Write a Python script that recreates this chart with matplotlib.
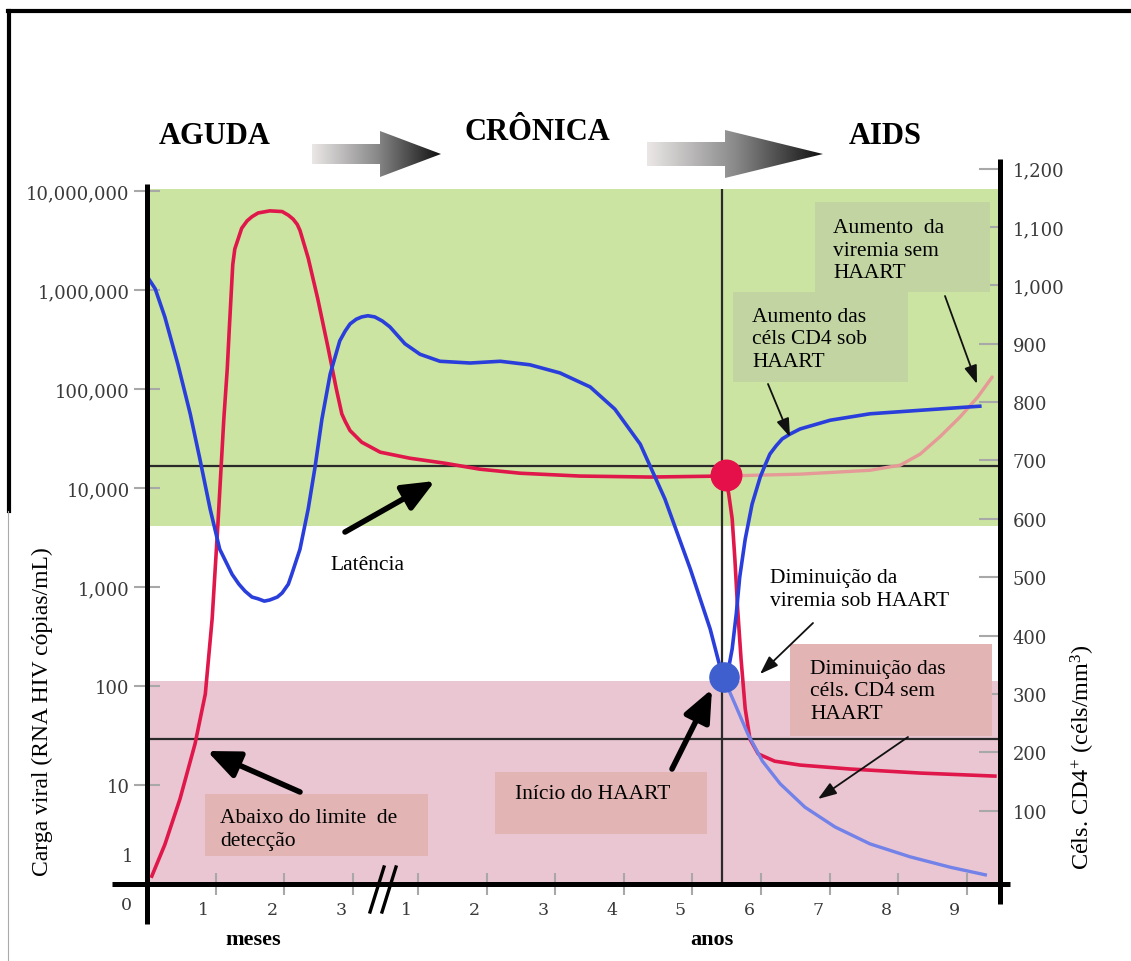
import numpy as np
import matplotlib.pyplot as plt
from matplotlib.patches import Rectangle, Polygon
from matplotlib.colors import LinearSegmentedColormap
import matplotlib.transforms as mtransforms

plt.rcParams['mathtext.fontset'] = 'custom'
plt.rcParams['mathtext.rm'] = 'Liberation Serif'
plt.rcParams['mathtext.it'] = 'Liberation Serif:italic'

# posição no eixo x: 0-3 = meses, depois anos (ano k em 2.95 + k)
meses_pos = [1, 2, 3]
anos_pos = [3.95, 4.95, 5.95, 6.95, 7.95, 8.95, 9.95, 10.95, 11.95]
x_labels = ['1', '2', '3', '1', '2', '3', '4', '5', '6', '7', '8', '9']

# carga viral (cópias/mL) - eixo esquerdo
t_viral = [0.07, 0.26, 0.48, 0.70, 0.85, 0.95, 1.03, 1.12, 1.17, 1.20, 1.25, 1.28, 1.33,
           1.38, 1.46, 1.53, 1.62, 1.79, 1.97, 2.06, 2.13, 2.19, 2.23, 2.35, 2.49, 2.64,
           2.76, 2.84, 2.89, 2.96, 3.03, 3.13, 3.40, 3.83, 4.34, 4.85, 5.44, 6.31, 7.33, 8.38]
viral = [1.2, 2.5, 7.2, 26, 83, 480, 3900, 50000, 160000, 410000, 1.8e6, 2.6e6, 3.3e6,
         4.2e6, 5.0e6, 5.5e6, 6.0e6, 6.3e6, 6.2e6, 5.7e6, 5.2e6, 4.6e6, 4.0e6, 2.1e6, 8.1e5,
         2.6e5, 1.0e5, 56000, 47000, 38000, 34000, 29000, 23000, 20000, 17800, 15500, 14100,
         13200, 12900, 13200]

# com HAART
t_viral_haart = [8.38, 8.44, 8.48, 8.53, 8.57, 8.61, 8.66, 8.72, 8.79, 8.91, 9.15, 9.52,
                 10.25, 11.27, 12.36]
viral_haart = [13200, 12300, 8700, 4900, 1900, 600, 186, 59, 29, 20.6, 17.4, 15.9,
               14.5, 13.2, 12.3]

# sem HAART
t_viral_sem = [8.38, 9.52, 10.54, 10.98, 11.27, 11.56, 11.85, 12.11, 12.32]
viral_sem = [13200, 13800, 15100, 17000, 22000, 33000, 52000, 83000, 132000]

# células CD4 (céls/mm3) - eixo direito
t_cd4 = [0.01, 0.12, 0.26, 0.45, 0.63, 0.77, 0.92, 1.06, 1.24, 1.34, 1.43, 1.53, 1.62,
         1.71, 1.79, 1.90, 1.97, 2.06, 2.11, 2.23, 2.35, 2.45, 2.55, 2.67, 2.81, 2.89,
         2.96, 3.05, 3.13, 3.22, 3.32, 3.43, 3.54, 3.76, 3.98, 4.27, 4.71, 5.15, 5.58,
         6.02, 6.46, 6.82, 7.19, 7.55, 7.92, 8.21, 8.38]
cd4 = [1014, 994, 946, 865, 780, 703, 617, 548, 505, 488, 476, 466, 463,
       459, 461, 466, 473, 488, 505, 548, 617, 689, 771, 848, 905, 922,
       934, 942, 946, 948, 946, 939, 929, 900, 882, 870, 867, 870, 864,
       850, 826, 788, 728, 634, 514, 411, 334]

t_cd4_haart = [8.41, 8.47, 8.53, 8.59, 8.64, 8.72, 8.82, 8.94, 9.01, 9.08, 9.17, 9.26,
               9.37, 9.52, 9.96, 10.54, 11.27, 12.14]
cd4_haart = [329, 339, 377, 437, 500, 565, 625, 672, 692, 711, 725, 737,
             745, 754, 769, 780, 786, 793]

t_cd4_sem = [8.41, 8.57, 8.76, 8.97, 9.23, 9.59, 10.03, 10.54, 11.12, 11.71, 12.22]
cd4_sem = [326, 283, 231, 185, 146, 106, 72, 43, 21, 3, -10]

# início do HAART
t_inicio = 8.38
viral_inicio = 13500
cd4_inicio = 329

# faixas e limiares
faixa_verde = [4100, 1.05e7]
faixa_rosa = [1, 112]
limiares = [16700, 29]

viral_ticks = [10, 100, 1000, 10000, 100000, 1000000, 10000000]
viral_ticklabels = ['10', '100', '1,000', '10,000', '100,000', '1,000,000', '10,000,000']
cd4_ticks = [100, 200, 300, 400, 500, 600, 700, 800, 900, 1000, 1100, 1200]
cd4_ticklabels = ['100', '200', '300', '400', '500', '600', '700', '800', '900',
                  '1,000', '1,100', '1,200']

RED = '#e0174a'
BLUE = '#2a3edb'
GREEN = '#cbe4a1'
PINK = '#eac6d2'
BOX_G = '#c1d4a2'
BOX_P = '#e2b4b4'
SERIF = 'Liberation Serif'

W, H = 1131, 962
fig = plt.figure(figsize=(W / 100, H / 100), dpi=100)
fig.patch.set_facecolor('white')

# main axes: pixels x 147..1000, y 160..885
ax = fig.add_axes([147 / W, 1 - 885 / H, 853 / W, 725 / H])
ax.set_yscale('log')
ax.set_xlim(0, 853 / 68.6)
ax.set_ylim(1, 10 ** (725 / 99))
for s in ax.spines.values():
    s.set_visible(False)

ax.axhspan(faixa_verde[0], faixa_verde[1], xmin=0.004, color=GREEN, lw=0, zorder=0)
ax.axhspan(faixa_rosa[0], faixa_rosa[1], xmin=0.004, color=PINK, lw=0, zorder=0)
for v in limiares:
    ax.axhline(v, color='#2a2a2a', lw=1.6, zorder=1)
ax.vlines(t_inicio, 1, faixa_verde[1], color='#2a2a2a', lw=1.6, zorder=1)

ax.plot(t_viral_sem, viral_sem, color='#e59a98', lw=2.4, zorder=2, solid_capstyle='round')
ax.plot(t_viral, viral, color=RED, lw=2.6, zorder=3, solid_joinstyle='round')
ax.plot(t_viral_haart, viral_haart, color=RED, lw=2.6, zorder=3, solid_joinstyle='round')
ax.plot([t_inicio + 0.06], [viral_inicio], 'o', ms=22, color='#e5104a', zorder=6)

ax.set_yticks(viral_ticks)
ax.set_yticklabels(viral_ticklabels)
ax.yaxis.set_minor_locator(plt.NullLocator())
ax.tick_params(axis='y', which='both', direction='inout', length=19, width=1.5,
               color='#a8a8a8', pad=3, labelsize=13, labelcolor='#3a3a3a', right=False)
for lab in ax.get_yticklabels():
    lab.set_family('DejaVu Serif')

ax.set_xticks(meses_pos + anos_pos)
ax.set_xticklabels(x_labels)
ax.tick_params(axis='x', direction='inout', length=16, width=1.5, color='#a8a8a8',
               pad=4, labelsize=12.5, labelcolor='#3a3a3a')
off = mtransforms.ScaledTranslation(-0.12, 0, fig.dpi_scale_trans)
for lab in ax.get_xticklabels():
    lab.set_family('DejaVu Serif')
    lab.set_transform(lab.get_transform() + off)

ax2 = ax.twinx()
ax2.set_ylim(-15 / 0.5836, 710 / 0.5836)
for s in ax2.spines.values():
    s.set_visible(False)
ax2.plot(t_cd4_sem, cd4_sem, color='#7282e8', lw=2.4, zorder=2)
ax2.plot(t_cd4, cd4, color=BLUE, lw=2.6, zorder=3, solid_joinstyle='round')
ax2.plot(t_cd4_haart, cd4_haart, color=BLUE, lw=2.6, zorder=3, solid_joinstyle='round')
ax2.plot([t_inicio + 0.03], [cd4_inicio], 'o', ms=21, color='#3f5fcf', zorder=6)
ax2.set_yticks(cd4_ticks)
ax2.set_yticklabels(cd4_ticklabels)
ax2.tick_params(axis='y', direction='in', length=15, width=1.5, color='#a8a8a8',
                pad=9, labelsize=13, labelcolor='#3a3a3a')
for lab in ax2.get_yticklabels():
    lab.set_family('DejaVu Serif')

# overlay in image pixels for frame, spines, boxes, notes
deco = fig.add_axes([0, 0, 1, 1], zorder=5)
deco.set_xlim(0, W)
deco.set_ylim(H, 0)
deco.axis('off')
deco.patch.set_alpha(0)

deco.plot([8, W], [12, 12], color='black', lw=3)
deco.plot([9, 9], [12, 512], color='black', lw=3)
deco.plot([8, 8], [512, H], color='#aaaaaa', lw=0.8)
deco.plot([147, 147], [185, 925], color='black', lw=3.6, solid_capstyle='butt')
deco.plot([1000, 1000], [160, 905], color='black', lw=3.6, solid_capstyle='butt')
deco.plot([112, 1010], [885, 885], color='black', lw=3.6, solid_capstyle='butt')
deco.plot([370, 384], [913, 868], color='black', lw=2.4)
deco.plot([382, 396], [913, 868], color='black', lw=2.4)

# gradient phase arrows
cmap = LinearSegmentedColormap.from_list('g', ['#ebe7e7', '#8a8a8a', '#101010'])
for x0, xh, x1, yc, sh, hh in [(312, 380, 441, 155, 10, 23), (647, 725, 823, 155, 12, 24)]:
    verts = [(x0, yc - sh), (xh, yc - sh), (xh, yc - hh), (x1, yc),
             (xh, yc + hh), (xh, yc + sh), (x0, yc + sh)]
    poly = Polygon(verts, closed=True, facecolor='none', edgecolor='none')
    deco.add_patch(poly)
    im = deco.imshow(np.linspace(0, 1, 256).reshape(1, -1), cmap=cmap, aspect='auto',
                     extent=(x0, x1, yc + hh, yc - hh), interpolation='bilinear')
    im.set_clip_path(poly)
deco.set_xlim(0, W)
deco.set_ylim(H, 0)

for txt, x, y in [('AGUDA', 215, 137), ('CRÔNICA', 537, 133), ('AIDS', 885, 137)]:
    deco.text(x, y, txt, ha='center', va='center', family=SERIF, weight='bold', fontsize=22)
deco.text(253, 940, 'meses', ha='center', va='center', family=SERIF, weight='bold', fontsize=16)
deco.text(712, 940, 'anos', ha='center', va='center', family=SERIF, weight='bold', fontsize=16)
deco.text(126, 906, '0', ha='center', va='center', family='DejaVu Serif', fontsize=12.5,
          color='#3a3a3a')
deco.text(127, 857, '1', ha='center', va='center', family='DejaVu Serif', fontsize=13,
          color='#3a3a3a')

deco.text(42, 712, 'Carga viral (RNA HIV cópias/mL)', rotation=90, ha='center', va='center',
          family=SERIF, fontsize=17)
deco.text(1083, 757, r'Céls. CD4$^{+}$ (céls/mm$^{3}$)', rotation=90, ha='center',
          va='center', family=SERIF, fontsize=17.5)

boxes = [(815, 203, 990, 293, BOX_G), (733, 293, 908, 383, BOX_G),
         (790, 645, 992, 737, BOX_P), (495, 773, 707, 835, BOX_P),
         (205, 795, 428, 857, BOX_P)]
for x0, y0, x1, y1, c in boxes:
    deco.add_patch(Rectangle((x0, y0), x1 - x0, y1 - y0, facecolor=c, edgecolor='none'))

notes = [('Aumento  da\nviremia sem\nHAART', 833, 251),
         ('Aumento das\ncéls CD4 sob\nHAART', 752, 340),
         ('Latência', 330, 566),
         ('Diminuição da\nviremia sob HAART', 770, 590),
         ('Diminuição das\ncéls. CD4 sem\nHAART', 810, 692),
         ('Início do HAART', 515, 795),
         ('Abaixo do limite  de\ndetecção', 220, 830)]
for txt, x, y in notes:
    deco.text(x, y, txt, ha='left', va='center', family=SERIF, fontsize=15.5,
              linespacing=1.28)

thin = dict(arrowstyle='-|>,head_length=0.8,head_width=0.28', color='#111111', lw=1.3,
            mutation_scale=14, shrinkA=0, shrinkB=0)
for tail, tip in [((945, 297), (977, 385)), ((768, 385), (790, 438)),
                  ((813, 624), (760, 675)), ((908, 738), (818, 800))]:
    deco.annotate('', xy=tip, xytext=tail, arrowprops=thin)

thick = dict(arrowstyle='-|>,head_length=0.75,head_width=0.32', color='black', lw=4,
             mutation_scale=26, shrinkA=0, shrinkB=0)
for tail, tip in [((345, 533), (435, 482)), ((672, 770), (712, 690)),
                  ((300, 793), (207, 752))]:
    deco.annotate('', xy=tip, xytext=tail, arrowprops=thick)

fig.savefig('out.png', dpi=100)
